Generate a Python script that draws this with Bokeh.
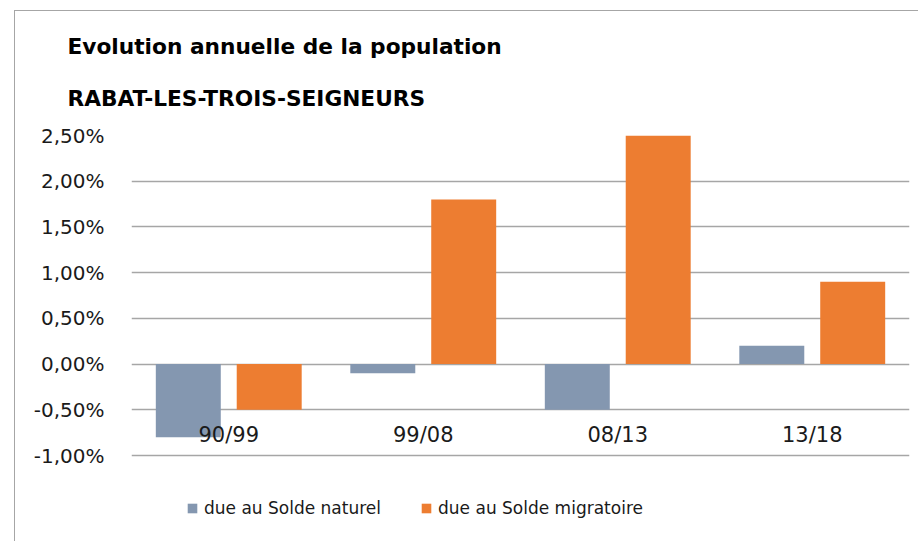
from bokeh.plotting import figure
from bokeh.models import ColumnDataSource, Range1d, FactorRange, Title, Legend, LegendItem, FixedTicker
from bokeh.transform import dodge
from bokeh.core.properties import value
from bokeh.embed import file_html
from bokeh.resources import INLINE

# ---- data ----
periods = ["90/99", "99/08", "08/13", "13/18"]
solde_naturel = [-0.8, -0.1, -0.5, 0.2]
solde_migratoire = [-0.5, 1.8, 2.5, 0.9]
series_names = ["due au Solde naturel", "due au Solde migratoire"]
y_ticks = [-1.0, -0.5, 0.0, 0.5, 1.0, 1.5, 2.0, 2.5]
y_tick_labels = ["-1,00%", "-0,50%", "0,00%", "0,50%", "1,00%", "1,50%", "2,00%", "2,50%"]
title_lines = ["Evolution annuelle de la population", "RABAT-LES-TROIS-SEIGNEURS"]
label_y = [-0.78] * len(periods)

FONT = "DejaVu Sans"
BLUE = "#8497B0"
ORANGE = "#ED7D31"
TXT = "#1a1a1a"

W, H = 904, 531
TOP, LEFT, RIGHT = 124, 116, 10
px_per_unit = 320 / 3.5          # grid spacing of the reference chart
y_end = 2.5
y_start = -1.0 - 87 / px_per_unit  # extra room below -1% for the legend

src = ColumnDataSource(dict(period=periods, nat=solde_naturel, mig=solde_migratoire, ly=label_y))

p = figure(
    x_range=FactorRange(*periods, range_padding=0),
    y_range=Range1d(y_start, y_end),
    width=W, height=H,
    output_backend="svg", toolbar_location=None,
    min_border_left=LEFT, min_border_right=RIGHT, min_border_top=TOP, min_border_bottom=0,
    margin=(10, 0, 0, 14),
    styles={"border-left": "1px solid #a6a6a6", "border-top": "1px solid #a6a6a6"},
)
p.outline_line_color = None
p.background_fill_color = "white"
p.border_fill_color = "white"

# titles: p.title is the upper line, the added Title sits nearest the plot
TITLE_SIZE = "21.7px"
p.title.text = title_lines[0]
p.title.align = "left"
p.title.offset = -64
p.title.standoff = 0
p.title.text_font = FONT
p.title.text_font_style = "bold"
p.title.text_font_size = TITLE_SIZE
p.title.text_color = "black"
p.add_layout(Title(text=title_lines[1], align="left", offset=-64, standoff=50,
                   text_font=FONT, text_font_style="bold", text_font_size=TITLE_SIZE,
                   text_color="black"), "above")

# grid
p.xgrid.visible = False
p.ygrid.ticker = FixedTicker(ticks=y_ticks)
p.ygrid.grid_line_color = "#a6a6a6"
p.ygrid.grid_line_width = 1.3

# axes
p.xaxis.visible = False
yax = p.yaxis[0]
yax.ticker = FixedTicker(ticks=y_ticks)
yax.major_label_overrides = {t: l for t, l in zip(y_ticks, y_tick_labels)}
yax.axis_line_color = None
yax.major_tick_line_color = None
yax.minor_tick_line_color = None
yax.major_label_text_font = FONT
yax.major_label_text_font_size = "20px"
yax.major_label_text_color = TXT
yax.major_label_standoff = 21

r1 = p.vbar(x=dodge("period", -0.208, range=p.x_range), top="nat", bottom=0, width=0.334,
            source=src, fill_color=BLUE, line_color=None)
r2 = p.vbar(x=dodge("period", 0.208, range=p.x_range), top="mig", bottom=0, width=0.334,
            source=src, fill_color=ORANGE, line_color=None)

# category labels
p.text(x="period", y="ly", text="period", source=src, text_align="center", text_baseline="middle",
       text_font=value(FONT), text_font_size="21px", text_color=TXT)

legend = Legend(items=[LegendItem(label=series_names[0], renderers=[r1]),
                       LegendItem(label=series_names[1], renderers=[r2])],
                orientation="horizontal", location=(55, 24),
                label_text_font=FONT, label_text_font_size="17px", label_text_color=TXT,
                glyph_width=12, glyph_height=12, label_standoff=6, spacing=39,
                padding=0, margin=0,
                border_line_color=None, background_fill_alpha=0)
p.add_layout(legend, "center")

open("out.html", "w").write(file_html(p, INLINE))
